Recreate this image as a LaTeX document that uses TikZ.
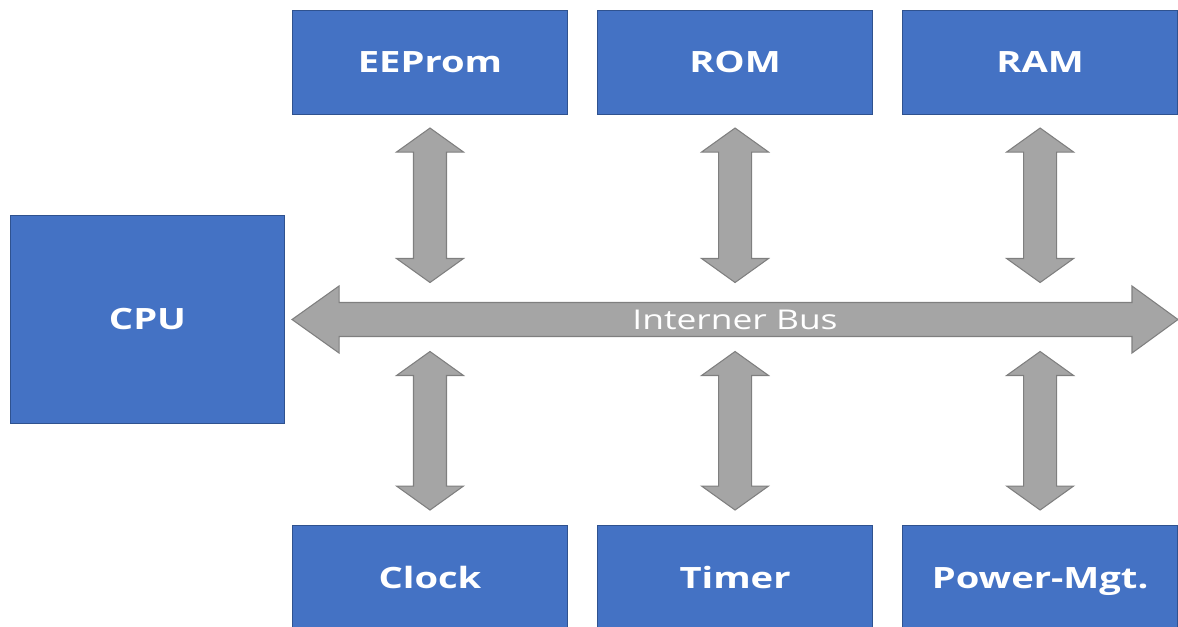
\documentclass[tikz,border=0pt]{standalone}
\usepackage{fontspec}
\setmainfont[FakeStretch=1.3]{Open Sans}
\usetikzlibrary{positioning,calc}

\definecolor{boxblue}{HTML}{4472C4}
\definecolor{boxline}{HTML}{2F528F}
\definecolor{linkfill}{HTML}{A5A5A5}
\definecolor{linkline}{HTML}{7F7F7F}

\begin{document}
\begin{tikzpicture}[%
    unit/.style={%
        draw=boxline,
        fill=boxblue,
        line width=0.6pt,
        text=white,
        font=\fontsize{16.7}{20}\selectfont\bfseries,
        text height=11.9pt,
        text depth=0pt,
        minimum width=5.5cm,
        minimum height=2.08cm,
        node distance=0.58cm
    },
    vlink/.style={%
        draw=linkline,
        fill=linkfill,
        line width=0.6pt,
        to path={let \p1=(\tikztostart), \p2=(\tikztotarget) in
            (\x1,\y1) -- (\x1+0.67cm,\y1-0.48cm) -- (\x1+0.33cm,\y1-0.48cm)
            -- (\x1+0.33cm,\y2+0.48cm) -- (\x1+0.67cm,\y2+0.48cm) -- (\x1,\y2)
            -- (\x1-0.67cm,\y2+0.48cm) -- (\x1-0.33cm,\y2+0.48cm)
            -- (\x1-0.33cm,\y1-0.48cm) -- (\x1-0.67cm,\y1-0.48cm) -- cycle}
    },
    hlink/.style={%
        draw=linkline,
        fill=linkfill,
        line width=0.6pt,
        to path={let \p1=(\tikztostart), \p2=(\tikztotarget) in
            (\x1,\y1) -- (\x1+0.94cm,\y1+0.67cm) -- (\x1+0.94cm,\y1+0.34cm)
            -- (\x2-0.92cm,\y1+0.34cm) -- (\x2-0.92cm,\y1+0.67cm) -- (\x2,\y1)
            -- (\x2-0.92cm,\y1-0.67cm) -- (\x2-0.92cm,\y1-0.34cm)
            -- (\x1+0.94cm,\y1-0.34cm) -- (\x1+0.94cm,\y1-0.67cm) -- cycle}
    },
    buslabel/.style={%
        text=white,
        font=\fontsize{15.5}{18}\selectfont
    }
]
\useasboundingbox (0,0) rectangle (23.56,-12.52);

% CPU
\node[unit, minimum width=5.48cm, minimum height=4.16cm] (cpu) at (2.95,-6.39) {CPU};

% Top row
\node[unit] (eeprom) at (8.6,-1.25) {EEProm};
\node[unit, right=of eeprom] (rom) {ROM};
\node[unit, right=of rom] (ram) {RAM};

% Bottom row
\node[unit, below=8.2cm of eeprom] (clock) {Clock};
\node[unit, right=of clock] (timer) {Timer};
\node[unit, right=of timer] (power) {Power-Mgt.};

% Bus
\coordinate (busL) at ([xshift=0.14cm]cpu.east);
\coordinate (busR) at (23.56,-6.39);
\draw[hlink] (busL) to (busR);
\node[buslabel] (buslbl) at ($(busL)!0.5!(busR)$) {Interner Bus};

% Links to the top row
\draw[vlink] ([yshift=-0.26cm]eeprom.south) to ($(eeprom.south |- busL)+(0,0.74)$);
\draw[vlink] ([yshift=-0.26cm]rom.south) to ($(rom.south |- busL)+(0,0.74)$);
\draw[vlink] ([yshift=-0.26cm]ram.south) to ($(ram.south |- busL)+(0,0.74)$);

% Links to the bottom row
\draw[vlink] ($(clock.north |- busL)+(0,-0.64)$) to ([yshift=0.3cm]clock.north);
\draw[vlink] ($(timer.north |- busL)+(0,-0.64)$) to ([yshift=0.3cm]timer.north);
\draw[vlink] ($(power.north |- busL)+(0,-0.64)$) to ([yshift=0.3cm]power.north);

\end{tikzpicture}
\end{document}
